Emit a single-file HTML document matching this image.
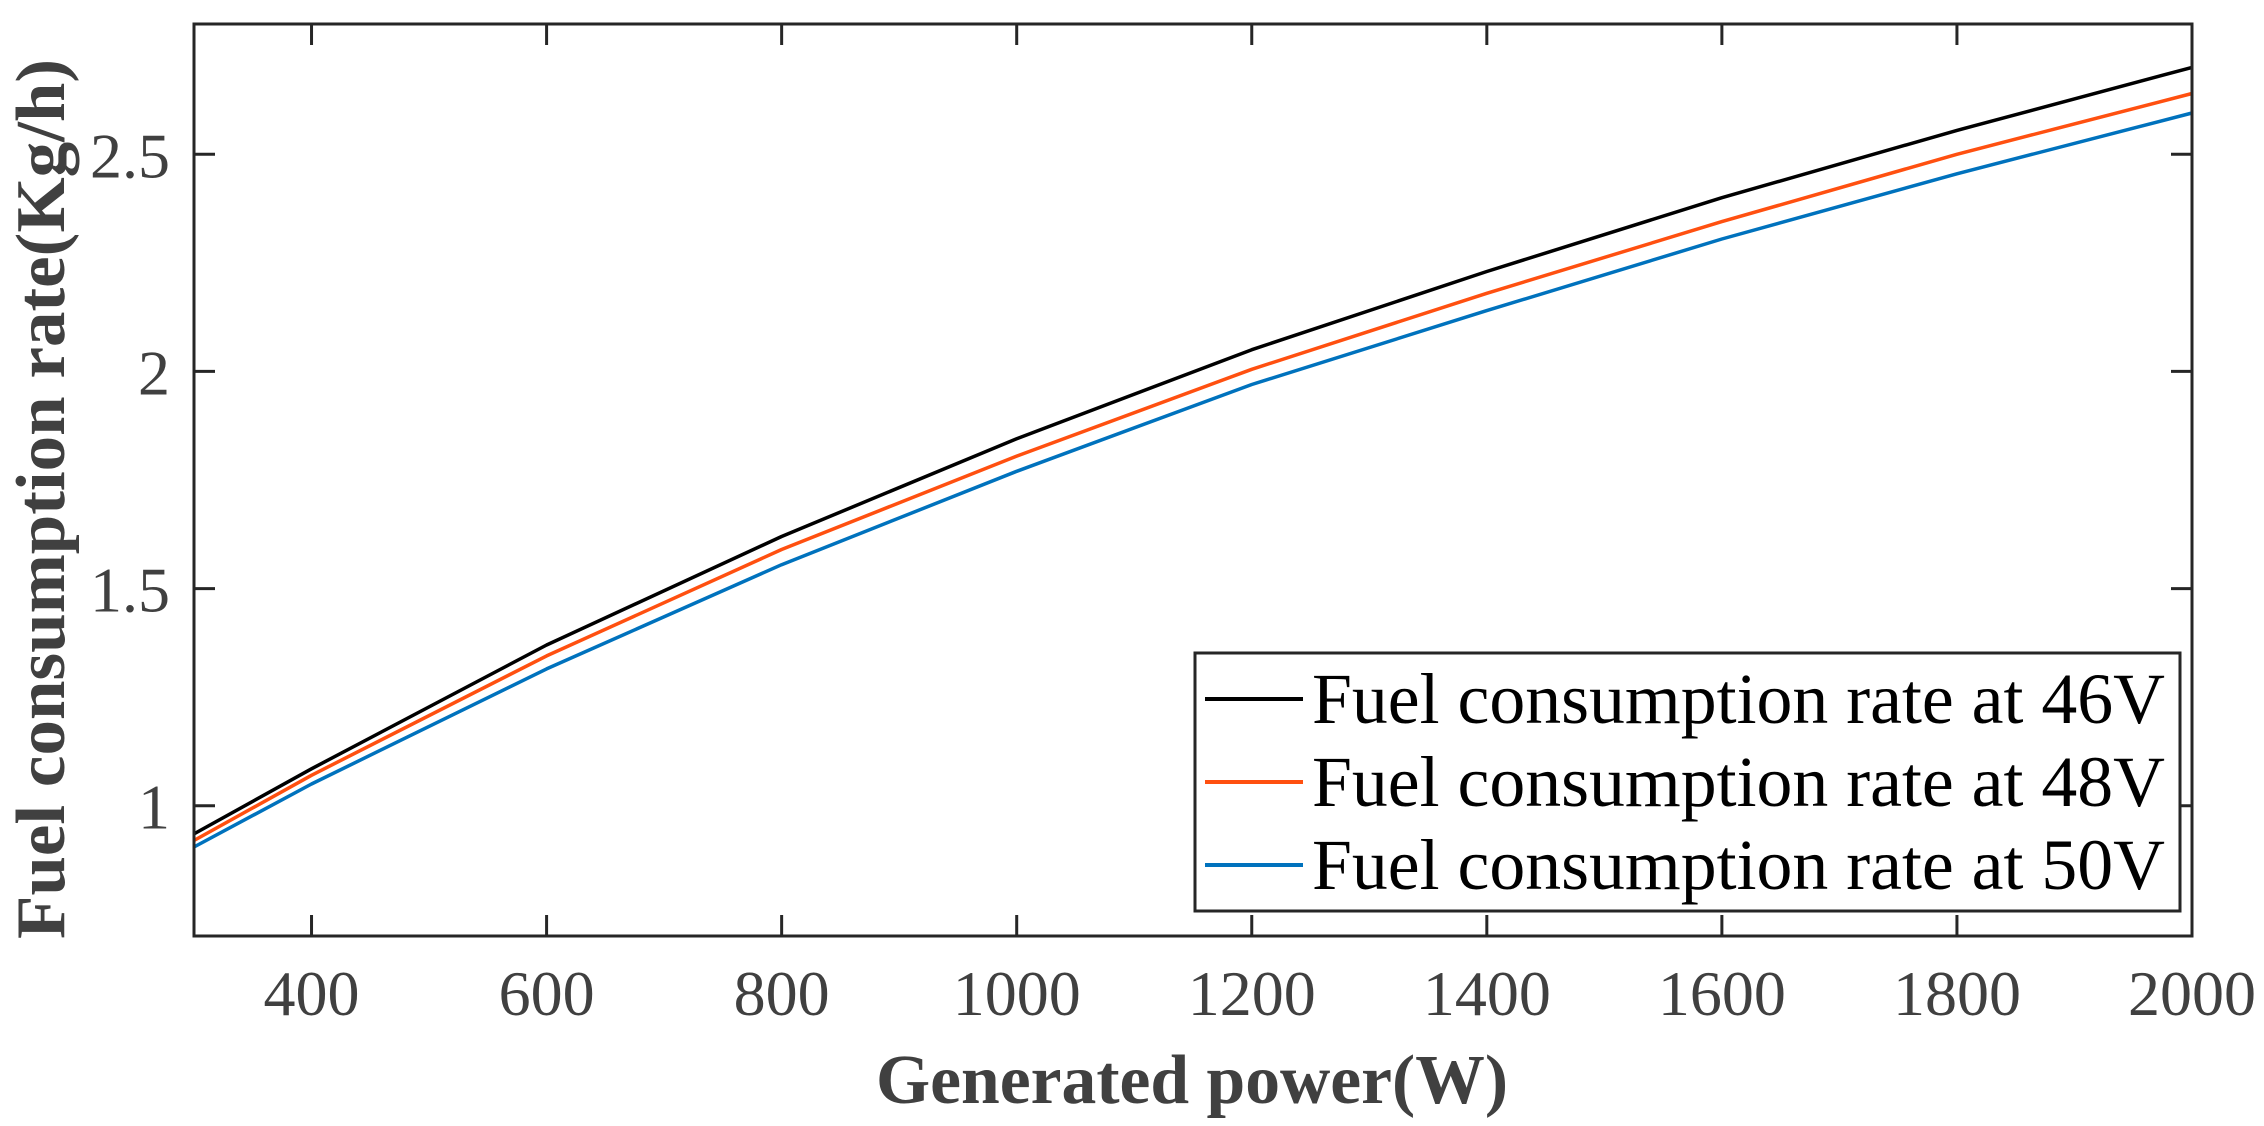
<!DOCTYPE html>
<html><head><meta charset="utf-8"><style>
html,body{margin:0;padding:0;background:#fff;}
svg{display:block;}
text{font-family:"Liberation Serif","Times New Roman",serif;}
</style></head><body>
<svg id="chart" width="2264" height="1126" viewBox="0 0 2264 1126" xmlns="http://www.w3.org/2000/svg">
<rect x="0" y="0" width="2264" height="1126" fill="#fff"/>
<g id="lines"></g>
<g id="axes"></g>
<g id="legend"></g>
<text x="1192" y="1103" text-anchor="middle" font-size="70" font-weight="bold" fill="#404040" textLength="632" lengthAdjust="spacingAndGlyphs">Generated power(W)</text>
<text transform="translate(64,499) rotate(-90)" text-anchor="middle" font-size="70" font-weight="bold" fill="#404040" textLength="880" lengthAdjust="spacingAndGlyphs">Fuel consumption rate(Kg/h)</text>
</svg>
<script>
const xValues = [300, 400, 600, 800, 1000, 1200, 1400, 1600, 1800, 2000];
const series46 = [0.935, 1.085, 1.37, 1.62, 1.845, 2.05, 2.23, 2.40, 2.555, 2.70];
const series48 = [0.92, 1.07, 1.345, 1.59, 1.805, 2.005, 2.18, 2.345, 2.50, 2.64];
const series50 = [0.905, 1.05, 1.315, 1.555, 1.77, 1.97, 2.14, 2.305, 2.455, 2.595];
const xTicks = [400, 600, 800, 1000, 1200, 1400, 1600, 1800, 2000];
const yTicks = [1, 1.5, 2, 2.5];
const yTickLabels = ["1", "1.5", "2", "2.5"];
const legendLabels = ["Fuel consumption rate at 46V", "Fuel consumption rate at 48V", "Fuel consumption rate at 50V"];

const NS = "http://www.w3.org/2000/svg";
const L = 194, R = 2192, T = 24, B = 936;
const xMin = 300, xMax = 2000, yMin = 0.7, yMax = 2.8;
function sx(v){ return L + (v - xMin) / (xMax - xMin) * (R - L); }
function sy(v){ return B - (v - yMin) / (yMax - yMin) * (B - T); }
function mk(tag, attrs, parent){
  const e = document.createElementNS(NS, tag);
  for (const k in attrs) e.setAttribute(k, attrs[k]);
  parent.appendChild(e);
  return e;
}
const linesG = document.getElementById('lines');
const axesG = document.getElementById('axes');
const legendG = document.getElementById('legend');
const allSeries = [series46, series48, series50];
const colors = ["#000000", "#ff5010", "#0072bd"];
const names = ["line-46v", "line-48v", "line-50v"];
allSeries.forEach((s, i) => {
  const d = s.map((v, j) => (j ? 'L' : 'M') + sx(xValues[j]).toFixed(1) + ',' + sy(v).toFixed(1)).join(' ');
  const p = mk('path', {d: d, fill: 'none', stroke: colors[i], 'stroke-width': 3.5, 'stroke-linejoin': 'round'}, linesG);
  
  
});
const box = mk('rect', {x: L, y: T, width: R - L, height: B - T, fill: 'none', stroke: '#262626', 'stroke-width': 3}, axesG);


const tl = 21;
xTicks.forEach(v => {
  const x = sx(v);
  const t1 = mk('line', {x1: x, x2: x, y1: B, y2: B - tl, stroke: '#262626', 'stroke-width': 3}, axesG);
  
  
  const t2 = mk('line', {x1: x, x2: x, y1: T, y2: T + tl, stroke: '#262626', 'stroke-width': 3}, axesG);
  
  
  const lab = mk('text', {x: x, y: 1015, 'text-anchor': 'middle', 'font-size': 64, fill: '#404040'}, axesG);
  lab.textContent = String(v);
  
  
});
yTicks.forEach((v, i) => {
  const y = sy(v);
  const t1 = mk('line', {x1: L, x2: L + tl, y1: y, y2: y, stroke: '#262626', 'stroke-width': 3}, axesG);
  
  
  const t2 = mk('line', {x1: R, x2: R - tl, y1: y, y2: y, stroke: '#262626', 'stroke-width': 3}, axesG);
  
  
  const lab = mk('text', {x: 170, y: y + 23, 'text-anchor': 'end', 'font-size': 64, fill: '#404040'}, axesG);
  lab.textContent = yTickLabels[i];
  
  
});
const lb = mk('rect', {x: 1195, y: 653, width: 985, height: 258, fill: '#fff', stroke: '#262626', 'stroke-width': 3}, legendG);


const rowY = [699, 782, 865];
legendLabels.forEach((t, i) => {
  const g = mk('g', {}, legendG);
  
  
  mk('line', {x1: 1205, x2: 1303, y1: rowY[i], y2: rowY[i], stroke: colors[i], 'stroke-width': 4}, g);
  const tx = mk('text', {x: 1312, y: rowY[i] + 24, 'font-size': 72, fill: '#000', textLength: 853, lengthAdjust: 'spacingAndGlyphs'}, g);
  tx.textContent = t;
});
</script>
</body></html>
